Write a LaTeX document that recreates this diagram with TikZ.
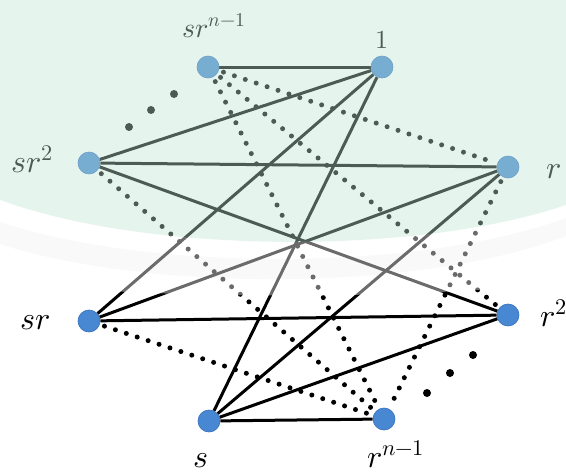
\documentclass[tikz,border=0pt]{standalone}
\usepackage{unicode-math}
\definecolor{nodeblue}{RGB}{72,136,210}
\definecolor{nodeedge}{RGB}{55,112,188}
\definecolor{wmgreen}{RGB}{192,230,212}
\pgfdeclarelayer{bg}
\pgfsetlayers{bg,main}
\begin{document}
\begin{tikzpicture}[x=1pt,y=-1pt,
  vtx/.style={circle,fill=nodeblue,draw=nodeedge,line width=0.6pt,minimum size=22pt,inner sep=0pt},
  link/.style={line width=3pt,black},
  dotlink/.style={line width=5pt,black,line cap=round,dash pattern=on 0pt off 11.5pt,shorten <=5pt,shorten >=5pt},
  bigdot/.style={circle,fill=black,minimum size=8pt,inner sep=0pt},
  lbl/.style={inner sep=0pt,anchor=base west,font=\fontsize{32}{36}\selectfont}
]
\useasboundingbox (0,0) rectangle (566,474);
% vertices
\node[vtx] (a) at (208,67) {};
\node[vtx] (b) at (382,67) {};
\node[vtx] (c) at (89,163) {};
\node[vtx] (d) at (508,167) {};
\node[vtx] (e) at (89,321) {};
\node[vtx] (f) at (508,315) {};
\node[vtx] (g) at (209,421) {};
\node[vtx] (h) at (384,419) {};
% labels
\node[lbl,font=\fontsize{28}{32}\selectfont] (la) at (182,37) {$sr^{n-1}$};
\node[lbl,anchor=base,font=\fontsize{26}{30}\selectfont] (lb) at (382,48) {$1$};
\node[lbl] (lc) at (11,172) {$sr^2$};
\node[lbl] (ld) at (546,178) {$r$};
\node[lbl] (le) at (20,329) {$sr$};
\node[lbl] (lf) at (540,326) {$r^2$};
\node[lbl] (lg) at (193,467) {$s$};
\node[lbl] (lh) at (367,467) {$r^{n-1}$};
% ellipsis dots
\node[bigdot] (t1) at (129,127) {};
\node[bigdot] (t2) at (151,110) {};
\node[bigdot] (t3) at (174,94) {};
\node[bigdot] (u1) at (473,355) {};
\node[bigdot] (u2) at (450,373) {};
\node[bigdot] (u3) at (427,393) {};
\begin{pgfonlayer}{bg}
\fill[white] (0,0) rectangle (566,474);
\draw[link] (a) -- (b);
\draw[link] (b) -- (c);
\draw[link] (c) -- (d);
\draw[link] (b) -- (e);
\draw[link] (b) -- (g);
\draw[link] (c) -- (f);
\draw[link] (d) -- (e);
\draw[link] (d) -- (g);
\draw[link] (e) -- (f);
\draw[link] (g) -- (f);
\draw[link] (g) -- (h);
\draw[dotlink] (a) -- (d);
\draw[dotlink] (a) -- (f);
\draw[dotlink] (a) -- (h);
\draw[dotlink] (c) -- (h);
\draw[dotlink] (d) -- (h);
\draw[dotlink] (e) -- (h);
\end{pgfonlayer}
% watermark-like overlays
\fill[black,opacity=0.04] (0,222) .. controls (150,272) and (420,272) .. (566,218) -- (566,236) .. controls (420,292) and (150,292) .. (0,244) -- cycle;
\fill[wmgreen,opacity=0.4] (0,0) -- (566,0) -- (566,205) .. controls (420,255) and (150,255) .. (0,200) -- cycle;
\fill[white,opacity=0.42] (0,200) .. controls (150,255) and (420,255) .. (566,205) -- (566,282) .. controls (420,300) and (150,300) .. (0,282) -- cycle;
\end{tikzpicture}
\end{document}
